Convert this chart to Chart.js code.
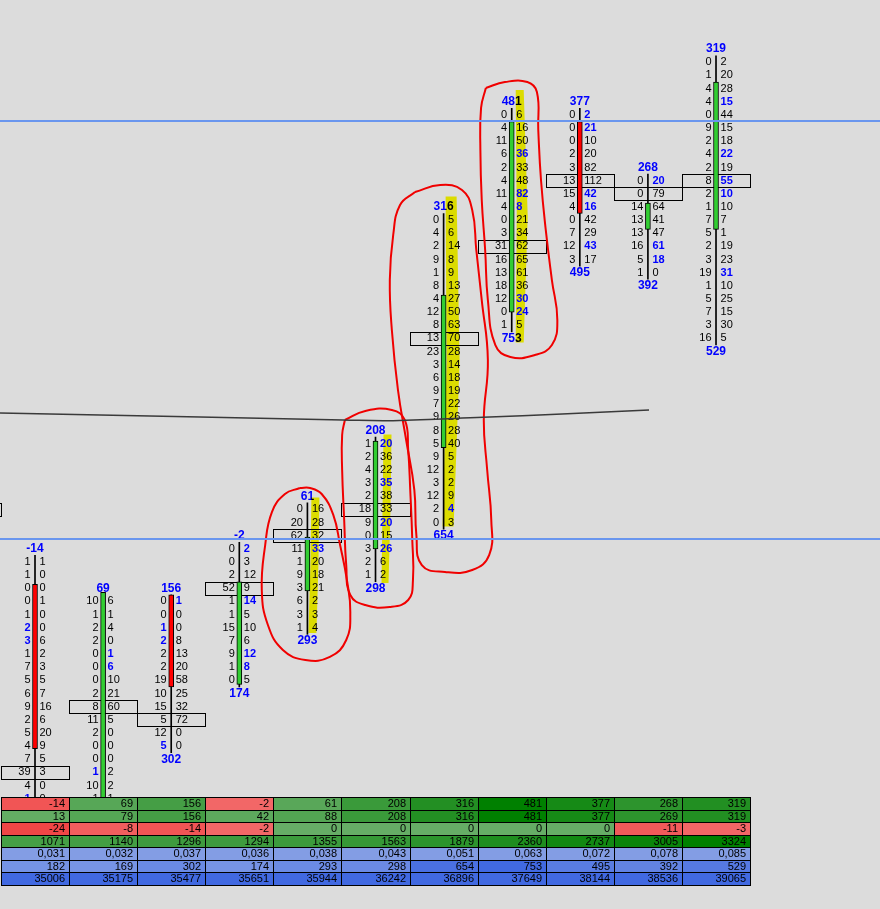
<!DOCTYPE html>
<html>
<head>
<meta charset="utf-8">
<script src="https://cdn.jsdelivr.net/npm/chart.js@4.4.1/dist/chart.umd.min.js"></script>
<style>
  body { margin: 0; background: #dcdcdc; }
  #wrap { position: relative; width: 880px; height: 909px; overflow: hidden; }
  canvas { position: absolute; left: 0; top: 0; }
</style>
</head>
<body>
<div id="wrap">
  <canvas id="foot" width="880" height="909"></canvas>
  <canvas id="marks" width="880" height="909"></canvas>
</div>
<script>
// bars 1..11 (bar 0 is cut off on the left, only its POC box shows)
const cols = [1, 2, 3, 4, 5, 6, 7, 8, 9, 10, 11];

// table under the chart
const deltaRow    = [-14, 69, 156, -2, 61, 208, 316, 481, 377, 268, 319];
const maxDeltaRow = [13, 79, 156, 42, 88, 208, 316, 481, 377, 269, 319];
const minDeltaRow = [-24, -8, -14, -2, 0, 0, 0, 0, 0, -11, -3];
const cumDeltaRow = [1071, 1140, 1296, 1294, 1355, 1563, 1879, 2360, 2737, 3005, 3324];
const ratioRow    = ['0,031', '0,032', '0,037', '0,036', '0,038', '0,043', '0,051', '0,063', '0,072', '0,078', '0,085'];
const volumeRow   = [182, 169, 302, 174, 293, 298, 654, 753, 495, 392, 529];
const cumVolRow   = [35006, 35175, 35477, 35651, 35944, 36242, 36896, 37649, 38144, 38536, 39065];

// price levels are counted downward from the top; first traded level of each bar
const rowStart = [38, 41, 41, 37, 34, 29, 12, 4, 4, 9, 0];
const bids = [
  [1, 1, 0, 0, 1, 2, 3, 1, 7, 5, 6, 9, 2, 5, 4, 7, 39, 4, 1],
  [10, 1, 2, 2, 0, 0, 0, 2, 8, 11, 2, 0, 0, 1, 10, 1],
  [0, 0, 1, 2, 2, 2, 19, 10, 15, 5, 12, 5],
  [0, 0, 2, 52, 1, 1, 15, 7, 9, 1, 0],
  [0, 20, 62, 11, 1, 9, 3, 6, 3, 1],
  [1, 2, 4, 3, 2, 18, 9, 0, 3, 2, 1],
  [0, 4, 2, 9, 1, 8, 4, 12, 8, 13, 23, 3, 6, 9, 7, 9, 8, 5, 9, 12, 3, 12, 2, 0],
  [0, 4, 11, 6, 2, 4, 11, 4, 0, 3, 31, 16, 13, 18, 12, 0, 1],
  [0, 0, 0, 2, 3, 13, 15, 4, 0, 7, 12, 3],
  [0, 0, 14, 13, 13, 16, 5, 1],
  [0, 1, 4, 4, 0, 9, 2, 4, 2, 8, 2, 1, 7, 5, 2, 3, 19, 1, 5, 7, 3, 16]
];
const asks = [
  [1, 0, 0, 1, 0, 0, 6, 2, 3, 5, 7, 16, 6, 20, 9, 5, 3, 0, 0],
  [6, 1, 4, 0, 1, 6, 10, 21, 60, 5, 0, 0, 0, 2, 2, 1],
  [1, 0, 0, 8, 13, 20, 58, 25, 32, 72, 0, 0],
  [2, 3, 12, 9, 14, 5, 10, 6, 12, 8, 5],
  [16, 28, 32, 33, 20, 18, 21, 2, 3, 4],
  [20, 36, 22, 35, 38, 33, 20, 15, 26, 6, 2],
  [5, 6, 14, 8, 9, 13, 27, 50, 63, 70, 28, 14, 18, 19, 22, 26, 28, 40, 5, 2, 2, 9, 4, 3],
  [6, 16, 50, 36, 33, 48, 82, 8, 21, 34, 62, 65, 61, 36, 30, 24, 5],
  [2, 21, 10, 20, 82, 112, 42, 16, 42, 29, 43, 17],
  [20, 79, 64, 41, 47, 61, 18, 0],
  [2, 20, 28, 15, 44, 15, 18, 22, 19, 55, 10, 10, 7, 1, 19, 23, 31, 10, 25, 15, 30, 5]
];
// levels where the number is shown bold blue
const blueBid = [[43, 44, 56], [54], [43, 44, 52], [], [], [], [], [], [], [], []];
const blueAsk = [[], [45, 46], [41], [37, 41, 45, 46], [37], [29, 32, 35, 37], [34],
                 [7, 10, 11, 18, 19], [4, 5, 10, 11, 14], [9, 14, 15], [3, 7, 9, 10, 16]];

// candle bodies (open/close, in levels)
const bodyTop    = [39.7, 40.3, 40.5, 39.5, 36.1, 28.8, 17.7, 4.5, 4.5, 10.7, 1.5];
const bodyBottom = [52.2, 58, 47.5, 47.3, 40.2, 37.0, 29.3, 19.0, 11.5, 12.7, 12.7];
const bodyUp     = [false, true, false, true, true, true, true, true, false, true, true];

// point of control per bar
const pocCols  = [0, 1, 2, 3, 4, 5, 6, 7, 8, 9, 10, 11];
const pocLevel = [34, 54, 49, 50, 40, 36, 34, 21, 14, 9, 10, 9];

// yellow highlighter strokes
const hiCols = [5, 6, 7, 8];
const hiFrom = [33.1, 28.3, 10.2, 2.1];
const hiTo   = [43.4, 39.6, 35.3, 21.3];

// drawn-on marks
const hLineLevels = [4.46, 36.25];
const curveX = [0.486, 1.954, 3.423, 5.523, 6.257, 7.579, 8.739, 10.016];
const curveY = [26.67, 26.82, 26.97, 27.20, 27.25, 27.00, 26.75, 26.44];
const loopAX = [4.89, 4.67, 4.48, 4.38, 4.33, 4.42, 4.64, 4.97, 5.33, 5.57, 5.63, 5.58, 5.48, 5.38, 5.21, 5.04];
const loopAY = [32.37, 32.83, 34.19, 36.71, 40.13, 42.79, 44.69, 45.45, 45.22, 43.93, 41.80, 39.37, 36.71, 34.42, 32.83, 32.37];
const loopBX = [5.55, 5.85, 6.24, 6.43, 6.48, 6.51, 6.54, 6.55, 6.48, 6.21, 5.85, 5.63, 5.57, 5.54, 5.51, 5.51];
const loopBY = [27.20, 26.51, 26.44, 27.20, 29.48, 32.52, 36.32, 39.37, 40.89, 41.42, 41.27, 40.51, 38.23, 34.80, 31.00, 28.34];
const loopCX = [6.58, 6.95, 7.27, 7.42, 7.48, 7.56, 7.65, 7.59, 7.64, 7.70, 7.67, 7.42, 7.02, 6.68, 6.60, 6.57, 6.45, 6.33, 6.24, 6.21, 6.26, 6.36];
const loopCY = [9.86, 9.33, 9.71, 11.23, 14.27, 18.08, 22.64, 27.20, 31.00, 34.80, 37.46, 38.61, 38.76, 38.23, 35.95, 32.52, 28.72, 24.92, 20.36, 16.56, 13.13, 10.85];
const loopDX = [7.62, 7.90, 8.23, 8.37, 8.39, 8.43, 8.50, 8.59, 8.67, 8.59, 8.34, 7.98, 7.76, 7.65, 7.61, 7.56, 7.54, 7.55];
const loopDY = [1.95, 1.50, 1.50, 2.26, 5.15, 8.95, 12.75, 16.56, 19.60, 21.50, 22.26, 22.41, 21.50, 18.08, 14.27, 10.47, 6.67, 3.47];

const xRange = [0.486, 13.408];
const yRange = [-4.738, 64.387];
const FONT = '"Liberation Sans", Arial, sans-serif';

function scalesCfg() {
  return {
    x: { type: 'linear', min: xRange[0], max: xRange[1], display: false, offset: false },
    y: { type: 'linear', min: yRange[0], max: yRange[1], reverse: true, display: false }
  };
}

function mix(a, b, t) {
  t = Math.max(0, Math.min(1, t));
  return 'rgb(' + a.map((v, i) => Math.round(v + (b[i] - v) * t)).join(',') + ')';
}
function signColor(v, max) {
  if (v < 0) return mix([242, 106, 106], [240, 70, 70], -v / 24);
  return mix([102, 173, 102], [0, 128, 0], v / max);
}

// x offsets of the highlighter edges (top, middle, bottom) from the bar line
const hiShape = [
  [[4, 12], [3, 11], [1, 9]],
  [[8, 16], [7, 15], [6, 13]],
  [[2, 13], [3, 16], [-1, 10]],
  [[4, 12], [5, 16], [4, 12]]
];

const footprint = {
  id: 'footprint',
  beforeDraw(chart) {
    const ctx = chart.ctx;
    ctx.save();
    ctx.fillStyle = '#dcdcdc';
    ctx.fillRect(0, 0, chart.width, chart.height);
    ctx.restore();
  },
  beforeDatasetsDraw(chart) {
    const ctx = chart.ctx, xs = chart.scales.x, ys = chart.scales.y;
    ctx.save();
    ctx.strokeStyle = '#000';
    ctx.lineWidth = 1;
    pocCols.forEach((k, i) => {
      const x0 = Math.round(xs.getPixelForValue(k - 0.5)) + 0.5;
      const x1 = Math.round(xs.getPixelForValue(k + 0.5)) + 0.5;
      const y0 = Math.round(ys.getPixelForValue(pocLevel[i] - 0.5)) + 0.5;
      const y1 = Math.round(ys.getPixelForValue(pocLevel[i] + 0.5)) + 0.5;
      ctx.strokeRect(x0, y0, x1 - x0, y1 - y0);
    });
    ctx.fillStyle = '#0000ff';
    ctx.font = 'bold 12px ' + FONT;
    ctx.textAlign = 'center';
    ctx.textBaseline = 'middle';
    cols.forEach((k, i) => {
      const x = xs.getPixelForValue(k);
      ctx.fillText(String(deltaRow[i]), x, ys.getPixelForValue(rowStart[i] - 1));
      ctx.fillText(String(volumeRow[i]), x, ys.getPixelForValue(rowStart[i] + bids[i].length));
    });
    // highlighter marker, multiplied over what is already drawn
    ctx.globalCompositeOperation = 'multiply';
    ctx.fillStyle = '#ffff00';
    hiCols.forEach((k, i) => {
      const x = xs.getPixelForValue(k), s = hiShape[i];
      const yt = ys.getPixelForValue(hiFrom[i]), yb = ys.getPixelForValue(hiTo[i]), ym = (yt + yb) / 2;
      ctx.beginPath();
      ctx.moveTo(x + s[0][0], yt);
      ctx.lineTo(x + s[1][0], ym);
      ctx.lineTo(x + s[2][0], yb);
      ctx.lineTo(x + s[2][1], yb);
      ctx.lineTo(x + s[1][1], ym);
      ctx.lineTo(x + s[0][1], yt);
      ctx.closePath();
      ctx.fill();
    });
    ctx.restore();
  },
  afterDatasetsDraw(chart) {
    const ctx = chart.ctx, xs = chart.scales.x, ys = chart.scales.y;
    ctx.save();
    ctx.textBaseline = 'middle';
    cols.forEach((k, i) => {
      const x = xs.getPixelForValue(k);
      bids[i].forEach((b, j) => {
        const L = rowStart[i] + j, y = ys.getPixelForValue(L);
        const bb = blueBid[i].includes(L), ab = blueAsk[i].includes(L);
        ctx.textAlign = 'right';
        ctx.font = (bb ? 'bold ' : '') + '11px ' + FONT;
        ctx.fillStyle = bb ? '#0000ff' : '#000';
        ctx.fillText(String(b), x - 4.5, y);
        ctx.textAlign = 'left';
        ctx.font = (ab ? 'bold ' : '') + '11px ' + FONT;
        ctx.fillStyle = ab ? '#0000ff' : '#000';
        ctx.fillText(String(asks[i][j]), x + 4.5, y);
      });
    });
    ctx.restore();
  },
  afterDraw(chart) {
    const ctx = chart.ctx, xs = chart.scales.x;
    const top = 797, rh = 12.57;
    const rows = [deltaRow, maxDeltaRow, minDeltaRow, cumDeltaRow, ratioRow, volumeRow, cumVolRow];
    const fills = [
      v => signColor(v, 481),
      v => signColor(v, 481),
      v => signColor(v, 481),
      v => signColor(v, 3324),
      v => '#839de4',
      v => mix([134, 160, 230], [65, 105, 225], v / 753),
      v => '#4169e1'
    ];
    ctx.save();
    ctx.font = '11px ' + FONT;
    ctx.textAlign = 'right';
    ctx.textBaseline = 'middle';
    rows.forEach((row, r) => {
      const y0 = Math.round(top + r * rh), y1 = Math.round(top + (r + 1) * rh);
      cols.forEach((k, i) => {
        const x0 = Math.round(xs.getPixelForValue(k - 0.5)), x1 = Math.round(xs.getPixelForValue(k + 0.5));
        ctx.fillStyle = fills[r](row[i]);
        ctx.fillRect(x0, y0, x1 - x0, y1 - y0);
        ctx.strokeStyle = '#000';
        ctx.lineWidth = 1;
        ctx.strokeRect(x0 + 0.5, y0 + 0.5, x1 - x0, y1 - y0);
        ctx.fillStyle = '#000';
        ctx.fillText(String(row[i]), x1 - 4, (y0 + y1) / 2 + 0.5);
      });
    });
    ctx.restore();
  }
};

const wickData = cols.map((k, i) => ({ x: k, y: [rowStart[i] - 0.5, rowStart[i] + bids[i].length - 0.5] }));
const bodyData = cols.map((k, i) => ({ x: k, y: [bodyTop[i], bodyBottom[i]] }));

new Chart(document.getElementById('foot'), {
  type: 'bar',
  data: {
    datasets: [
      { data: wickData, backgroundColor: '#000', borderWidth: 0, barThickness: 1, grouped: false, order: 2 },
      { data: bodyData, backgroundColor: bodyUp.map(u => u ? '#32cd32' : '#ff0000'),
        borderColor: '#000', borderWidth: 1, borderSkipped: false, barThickness: 5, grouped: false, order: 1 }
    ]
  },
  options: {
    responsive: false, animation: false, events: [],
    layout: { padding: 0 },
    plugins: { legend: { display: false }, tooltip: { enabled: false } },
    scales: scalesCfg()
  },
  plugins: [footprint]
});

function pts(xv, yv, close) {
  const p = xv.map((x, i) => ({ x: x, y: yv[i] }));
  if (close) p.push({ x: xv[0], y: yv[0] });
  return p;
}
const markSets = hLineLevels.map(L => ({
  data: [{ x: xRange[0], y: L }, { x: xRange[1], y: L }],
  borderColor: '#6a96ee', borderWidth: 2, tension: 0
}));
markSets.push({ data: pts(curveX, curveY, false), borderColor: '#3a3a3a', borderWidth: 1.5, tension: 0.4 });
[[loopAX, loopAY], [loopBX, loopBY], [loopCX, loopCY], [loopDX, loopDY]].forEach(l => {
  markSets.push({ data: pts(l[0], l[1], true), borderColor: '#f00000', borderWidth: 2, tension: 0.45 });
});

new Chart(document.getElementById('marks'), {
  type: 'line',
  data: { datasets: markSets },
  options: {
    responsive: false, animation: false, events: [],
    layout: { padding: 0 },
    elements: { point: { radius: 0 }, line: { capBezierPoints: false } },
    plugins: { legend: { display: false }, tooltip: { enabled: false } },
    scales: scalesCfg()
  }
});
</script>
</body>
</html>
